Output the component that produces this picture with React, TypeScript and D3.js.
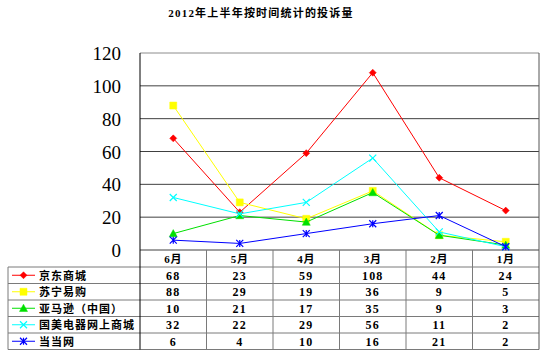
import React from "react";
import * as d3 from "d3";

const title = "2012年上半年按时间统计的投诉量";
const months = ["6月", "5月", "4月", "3月", "2月", "1月"];
const yTicks = [0, 20, 40, 60, 80, 100, 120];

const seriesNames = ["京东商城", "苏宁易购", "亚马逊（中国）", "国美电器网上商城", "当当网"];
const jingdong = [68, 23, 59, 108, 44, 24];
const suning = [88, 29, 19, 36, 9, 5];
const amazon = [10, 21, 17, 35, 9, 3];
const gome = [32, 22, 29, 56, 11, 2];
const dangdang = [6, 4, 10, 16, 21, 2];
const seriesValues = [jingdong, suning, amazon, gome, dangdang];
const seriesColors = ["#FF0000", "#FFFF00", "#00E000", "#00FFFF", "#0000FF"];
const seriesMarkers = ["diamond", "square", "triangle", "times", "asterisk"];

const W = 548;
const H = 357;
const plotLeft = 140;
const plotRight = 539;
const yTopPx = 53;
const yZeroPx = 250;
const tableLeft = 8;
const headerBottom = 267;
const rowH = 16.5;
const tableBottom = headerBottom + rowH * seriesNames.length;

function markerPath(kind: string, size: number): string {
  const h = size / 2;
  switch (kind) {
    case "diamond":
      return `M0,${-h}L${h},0L0,${h}L${-h},0Z`;
    case "square":
      return `M${-h},${-h}H${h}V${h}H${-h}Z`;
    case "triangle":
      return `M0,${-h}L${h},${h * 0.8}L${-h},${h * 0.8}Z`;
    case "times":
      return `M${-h},${-h}L${h},${h}M${-h},${h}L${h},${-h}`;
    default:
      return `M${-h},${-h}L${h},${h}M${-h},${h}L${h},${-h}M0,${-h}V${h}`;
  }
}

function Marker({ kind, color, x, y }: { kind: string; color: string; x: number; y: number }) {
  const filled = kind === "diamond" || kind === "square" || kind === "triangle";
  const size = kind === "square" ? 7 : kind === "triangle" ? 8 : 7;
  return (
    <path
      d={markerPath(kind, size)}
      transform={`translate(${x},${y})`}
      fill={filled ? color : "none"}
      stroke={color}
      strokeWidth={filled ? 0.5 : 1.2}
    />
  );
}

export default function App() {
  const x = d3.scaleBand<string>().domain(months).range([plotLeft, plotRight]).padding(0);
  const y = d3.scaleLinear().domain([0, 120]).range([yZeroPx, yTopPx]);
  const cx = (m: string) => (x(m) as number) + x.bandwidth() / 2;
  const line = d3
    .line<number>()
    .x((_, i) => cx(months[i]))
    .y((d) => y(d));

  const cjk = "'Noto Sans CJK SC', 'DejaVu Sans', sans-serif";
  const serif = "'Liberation Serif', 'DejaVu Serif', serif";
  const mixed = "'Liberation Serif', 'Noto Sans CJK SC', serif";
  const gridColor = "#7a7a7a";

  return (
    <div style={{ position: "absolute", left: 0, top: 0 }}>
      <svg width={W} height={H} style={{ display: "block", background: "#fff" }}>
        <text
          x={261}
          y={17}
          textAnchor="middle"
          fontFamily={mixed}
          fontSize={11}
          fontWeight="bold"
          letterSpacing={1.2}
          fill="#000"
        >
          {title}
        </text>

        {yTicks.map((t) => (
          <g key={t}>
            <line x1={plotLeft} x2={plotRight} y1={y(t)} y2={y(t)} stroke={t === 120 ? "#8c8c8c" : "#404040"} strokeWidth={1} />
            <text x={121} y={y(t) + 7} textAnchor="end" fontFamily={serif} fontSize={19} fill="#000">
              {t}
            </text>
          </g>
        ))}

        {/* table horizontal lines */}
        {d3.range(seriesNames.length + 1).map((i) => (
          <line
            key={"h" + i}
            x1={tableLeft}
            x2={plotRight}
            y1={headerBottom + i * rowH}
            y2={headerBottom + i * rowH}
            stroke={gridColor}
            strokeWidth={1}
          />
        ))}
        {/* table vertical lines */}
        <line x1={tableLeft} x2={tableLeft} y1={headerBottom} y2={tableBottom} stroke={gridColor} />
        {months.map((m, i) =>
          i === 0 ? null : (
            <line key={"v" + m} x1={x(m)} x2={x(m)} y1={yZeroPx} y2={tableBottom} stroke={gridColor} />
          )
        )}
        <line x1={plotRight} x2={plotRight} y1={yTopPx} y2={tableBottom} stroke="#555" />
        <line x1={plotLeft} x2={plotLeft} y1={yTopPx} y2={tableBottom} stroke="#000" />

        {/* month headers */}
        {months.map((m) => (
          <text key={"m" + m} x={cx(m)} y={yZeroPx + 12.5} textAnchor="middle" fontFamily={mixed} fontSize={11} fontWeight="bold" letterSpacing={0.8} fill="#000">
            {m}
          </text>
        ))}

        {/* series lines and markers */}
        {seriesValues.map((vals, s) => (
          <g key={"s" + s}>
            <path d={line(vals) || ""} fill="none" stroke={seriesColors[s]} strokeWidth={1} />
            {vals.map((v, i) => (
              <Marker key={i} kind={seriesMarkers[s]} color={seriesColors[s]} x={cx(months[i])} y={y(v)} />
            ))}
          </g>
        ))}

        {/* legend rows and values */}
        {seriesNames.map((name, s) => {
          const rowMid = headerBottom + s * rowH + rowH / 2;
          return (
            <g key={"r" + s}>
              <line x1={12} x2={35} y1={rowMid} y2={rowMid} stroke={seriesColors[s]} strokeWidth={1} />
              <Marker kind={seriesMarkers[s]} color={seriesColors[s]} x={23.5} y={rowMid} />
              <text x={39} y={rowMid + 4.5} fontFamily={cjk} fontSize={11} fontWeight="bold" letterSpacing={1} fill="#000">
                {name}
              </text>
              {seriesValues[s].map((v, i) => (
                <text key={i} x={cx(months[i])} y={rowMid + 4.5} textAnchor="middle" fontFamily={serif} fontSize={12} fontWeight="bold" letterSpacing={1.2} fill="#000">
                  {v}
                </text>
              ))}
            </g>
          );
        })}
      </svg>
    </div>
  );
}
